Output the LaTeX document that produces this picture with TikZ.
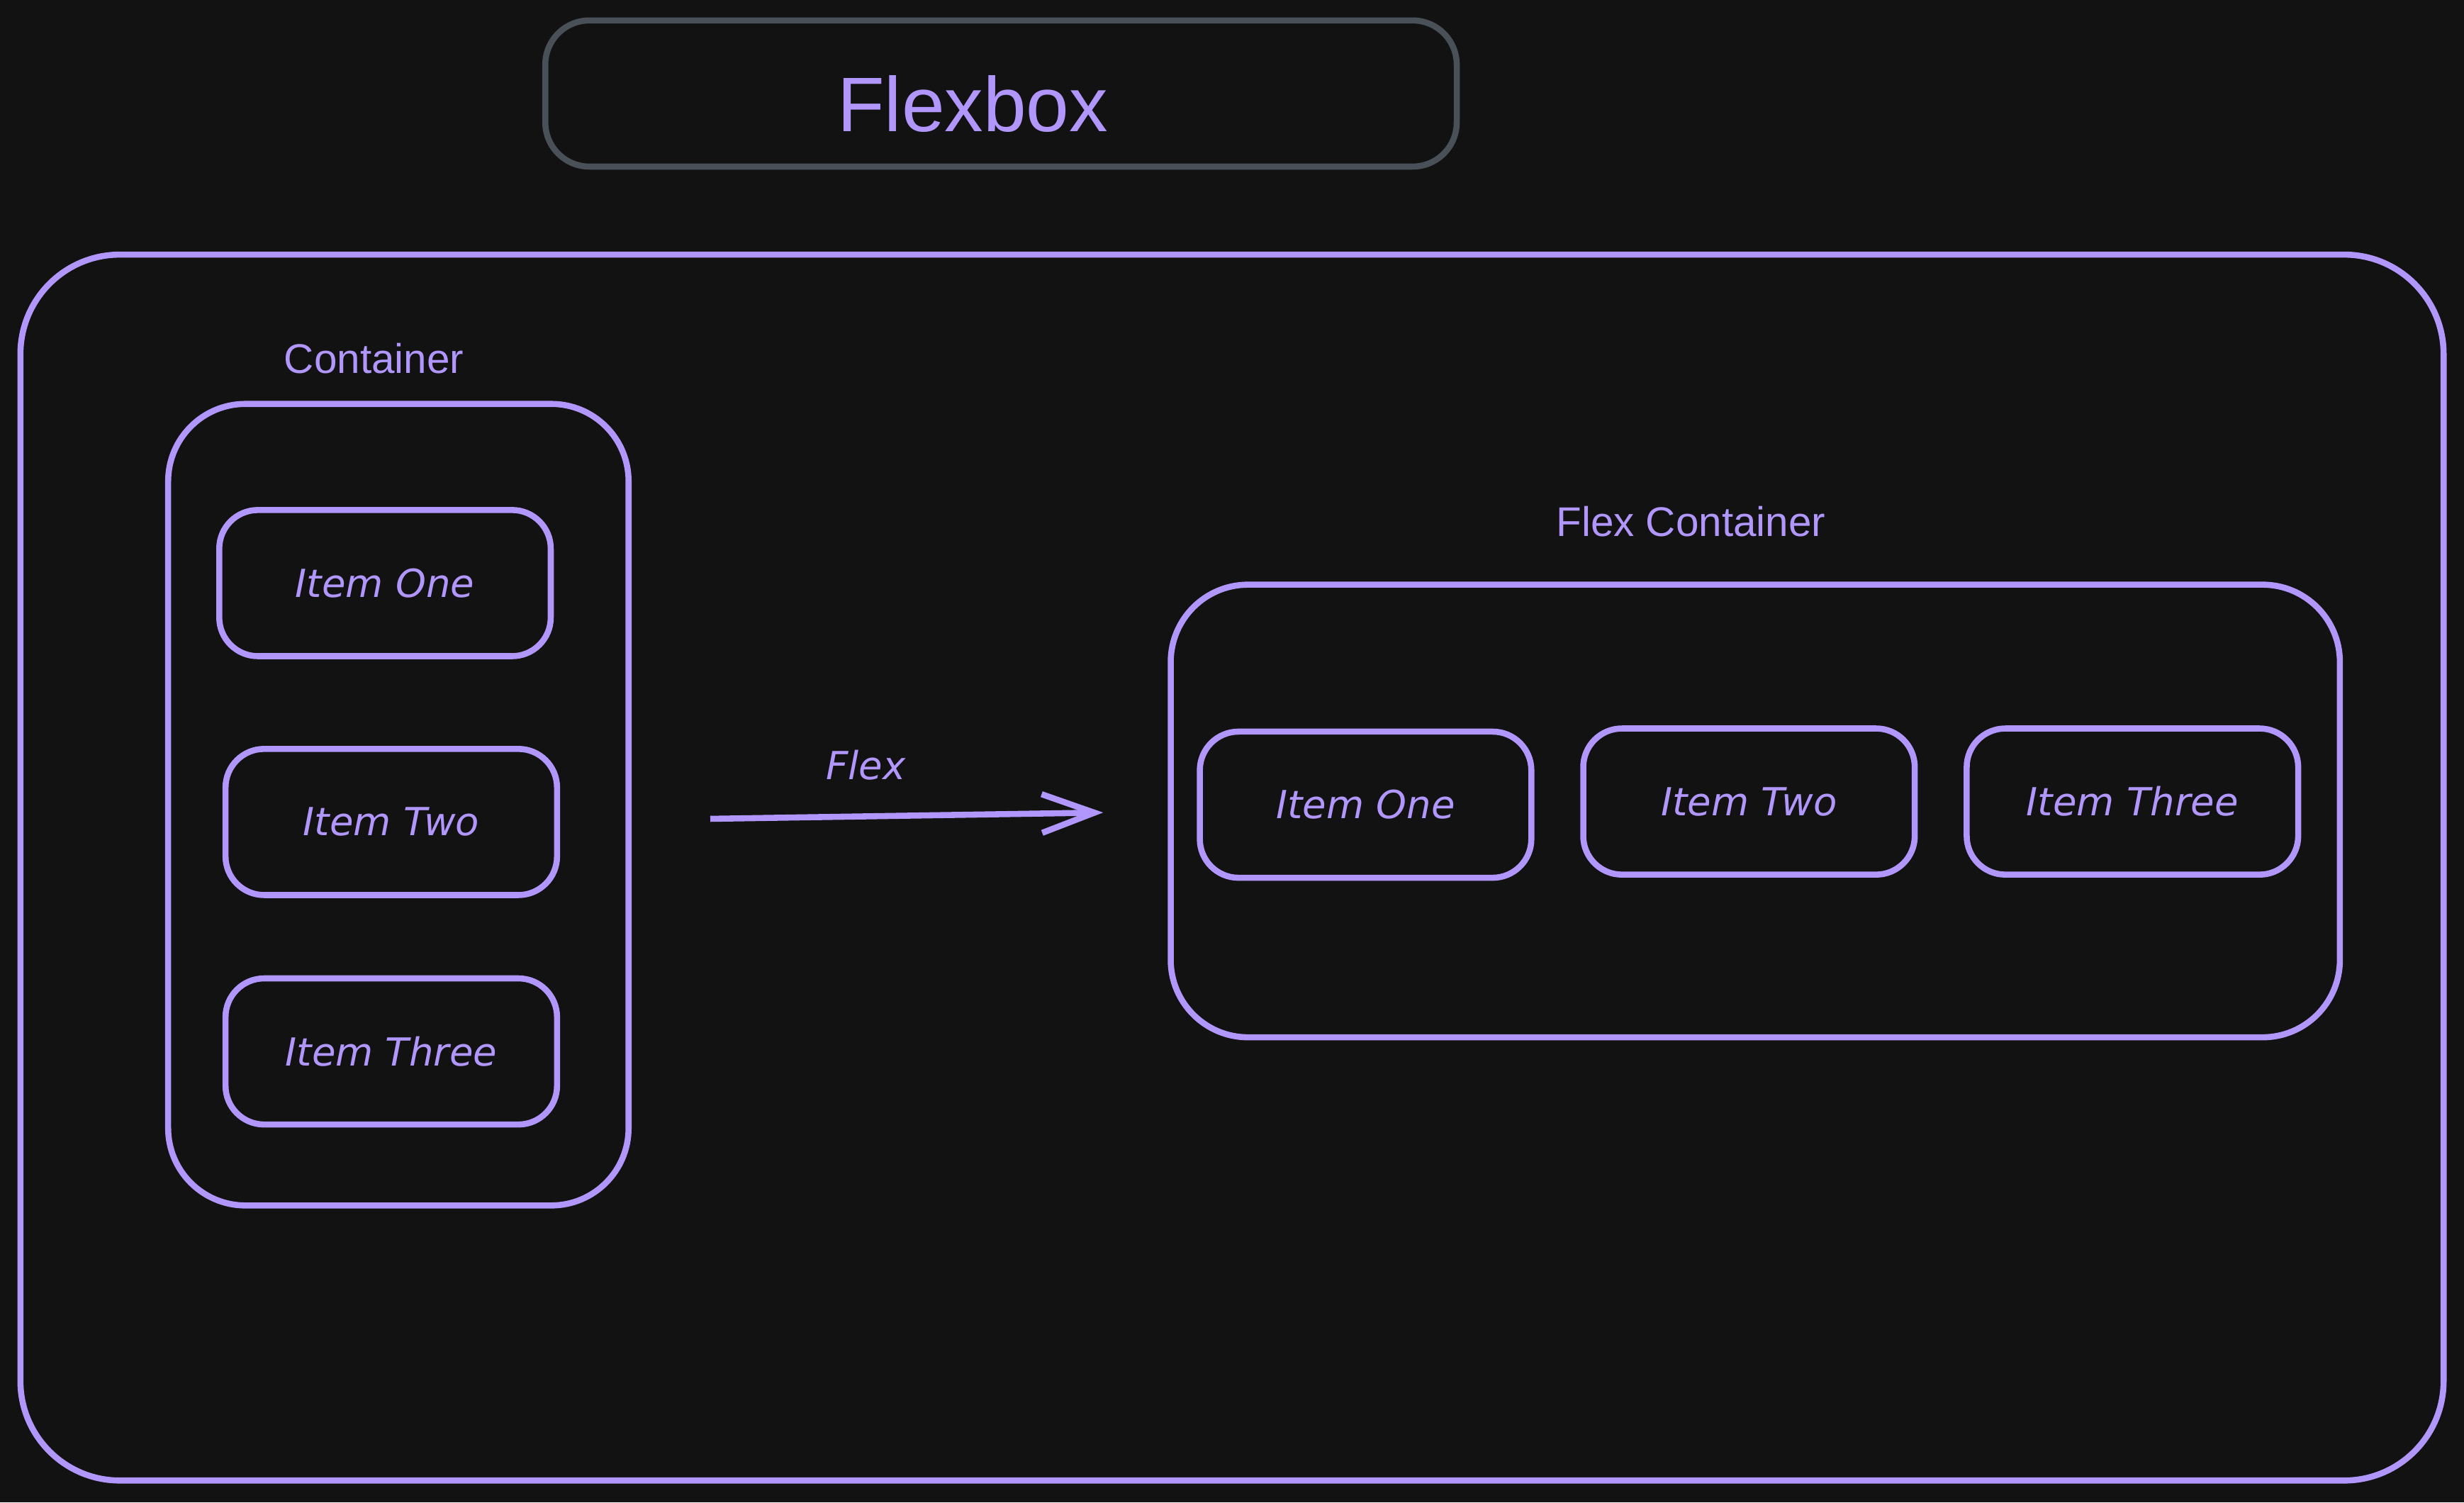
\documentclass[tikz,border=0pt]{standalone}
\usepackage{fontspec}
\setmainfont{Liberation Sans}
\newfontfamily\handfont{DejaVu Sans}
\usetikzlibrary{positioning,arrows.meta}
\definecolor{bgdark}{HTML}{121212}
\definecolor{lilac}{HTML}{B197FC}
\definecolor{slate}{HTML}{495057}
\tikzset{
  frame/.style={draw=lilac,line width=2.2pt,rounded corners=28pt},
  item/.style={draw=lilac,line width=2.2pt,rounded corners=14pt,
    minimum width=4.22cm,minimum height=1.86cm,text=lilac,
    font=\handfont\itshape\fontsize{14}{16}\selectfont},
  caption/.style={text=lilac,font=\fontsize{15}{18}\selectfont}
}
\begin{document}
\begin{tikzpicture}[x=0.02cm,y=-0.02cm]
  \fill[bgdark] (0,0) rectangle (1568,956);
  \useasboundingbox (0,0) rectangle (1568,956);

  % title
  \draw[slate,line width=2.2pt,rounded corners=16pt] (347,13) rectangle (927,106);
  \node[text=lilac,font=\fontsize{28}{32}\selectfont] (title) at (619,66) {Flexbox};

  % outer frame
  \draw[frame,rounded corners=36pt] (13,162) rectangle (1555,942);

  % column container
  \node[caption] (colcap) at (238,228) {Container};
  \draw[frame] (107,257) rectangle (400,767);
  \node[item] (colone) at (245,371) {Item One};
  \node[item] (coltwo) at (249,523) {Item Two};
  \node[item] (colthree) at (249,669) {Item Three};

  % arrow
  \coordinate (flexstart) at (452,521);
  \coordinate (flexend) at (702,517);
  \draw[lilac,line width=2.2pt,-{Straight Barb[length=19pt,width=14pt]}] (flexstart) -- (flexend);
  \node[text=lilac,font=\handfont\itshape\fontsize{14}{16}\selectfont] (flexlab) at (551,487) {Flex};

  % row container
  \node[caption] (rowcap) at (1076,332) {Flex Container};
  \draw[frame] (745,372) rectangle (1489,660);
  \node[item] (rowone) at (869,512) {Item One};
  \node[item] (rowtwo) at (1113,510) {Item Two};
  \node[item] (rowthree) at (1357,510) {Item Three};
\end{tikzpicture}
\end{document}
